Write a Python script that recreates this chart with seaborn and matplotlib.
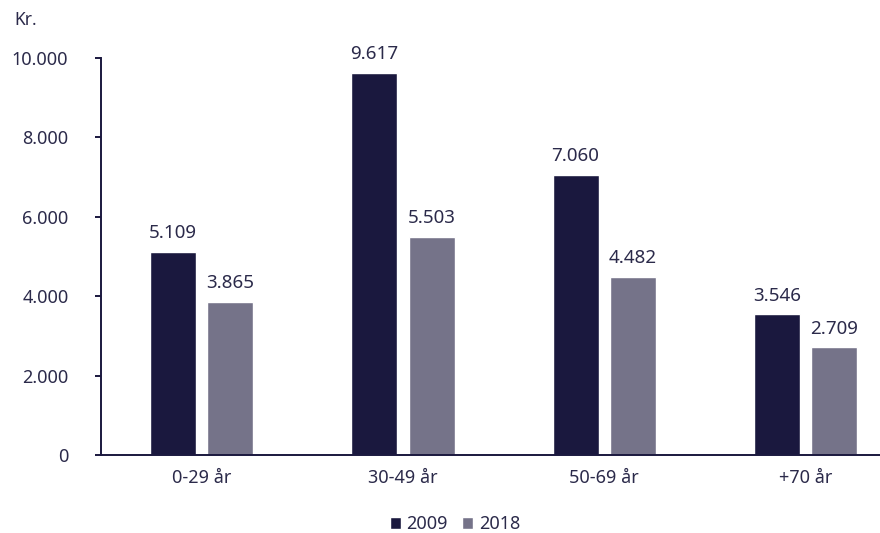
import matplotlib
matplotlib.use('Agg')
import matplotlib.pyplot as plt
import seaborn as sns
import pandas as pd

sns.set_style('ticks')
plt.rcParams['font.family'] = ['Noto Sans', 'DejaVu Sans']

categories = ['0-29 år', '30-49 år', '50-69 år', '+70 år']
values_2009 = [5109, 9617, 7060, 3546]
values_2018 = [3865, 5503, 4482, 2709]
years = ['2009', '2018']

NAVY = '#1a183e'
GREY = '#757389'
TEXT = '#2b2a4a'


def fmt(v):
    return f'{v:,.0f}'.replace(',', '.')


df = pd.DataFrame({
    'kategori': categories * 2,
    'år': [years[0]] * 4 + [years[1]] * 4,
    'kr': values_2009 + values_2018,
})

fig = plt.figure(figsize=(8.8, 5.33), dpi=100)
ax = fig.add_axes([0.1148, 0.1463, 0.8852, 0.7449])

sns.barplot(data=df, x='kategori', y='kr', hue='år', order=categories,
            hue_order=years, palette=[NAVY, GREY], width=0.57, gap=0.2,
            saturation=1, ax=ax, errorbar=None)

for cont in ax.containers:
    ax.bar_label(cont, labels=[fmt(v) for v in cont.datavalues],
                 padding=7, fontsize=13.5, color=TEXT)

ax.set_ylim(0, 10000)
ax.set_xlim(-0.5, 3.37)
ax.set_yticks(range(0, 10001, 2000))
ax.set_yticklabels([fmt(v) for v in range(0, 10001, 2000)])
ax.set_xlabel('')
ax.set_ylabel('')

sns.despine(ax=ax)
for side in ['left', 'bottom']:
    ax.spines[side].set_color(NAVY)
    ax.spines[side].set_linewidth(1.4)
ax.tick_params(axis='y', length=4.5, width=1.4, color=NAVY, pad=19,
               labelsize=13, labelcolor=TEXT)
ax.tick_params(axis='x', length=0, pad=10, labelsize=13, labelcolor=TEXT)

fig.text(0.016, 0.962, 'Kr.', fontsize=12.5, color=TEXT, va='center')

ax.legend(loc='center', bbox_to_anchor=(0.5171, 0.016),
          bbox_transform=fig.transFigure, ncol=2, frameon=False,
          fontsize=13, handlelength=0.6, handleheight=0.6,
          handletextpad=0.3, columnspacing=0.8, labelcolor=TEXT,
          borderpad=0)

fig.savefig('out.png', dpi=100)
